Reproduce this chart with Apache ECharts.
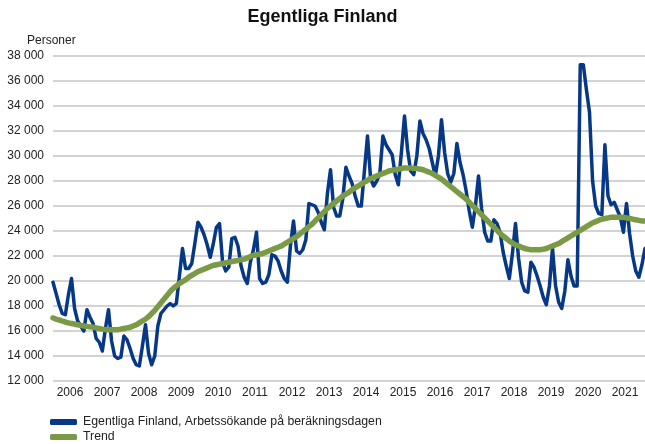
<!DOCTYPE html>
<html>
<head>
<meta charset="utf-8">
<script src="https://cdn.jsdelivr.net/npm/echarts@6/dist/echarts.min.js"></script>
<style>
html,body{margin:0;padding:0;background:#fff;}
#chart{width:645px;height:444px;}
</style>
</head>
<body>
<div id="chart"></div>
<script>
// ---- data ----
const startYear = 2006;
const monthNames = ['01','02','03','04','05','06','07','08','09','10','11','12'];
const yearLabels = ['2006','2007','2008','2009','2010','2011','2012','2013','2014','2015','2016','2017','2018','2019','2020','2021'];
const yTicks = [12000,14000,16000,18000,20000,22000,24000,26000,28000,30000,32000,34000,36000,38000];

// Egentliga Finland, Arbetssökande på beräkningsdagen (monthly, Jan 2006 - Jan 2022)
const jobSeekers = [
  19900,19000,18100,17400,17300,18900,20200,17800,16800,16400,16000,17700,
  17100,16600,15400,15100,14400,16200,17700,15200,14000,13800,13900,15600,
  15300,14600,13800,13300,13200,14800,16500,14200,13300,14000,16400,17400,
  17700,18000,18200,18000,18200,20400,22600,21000,21000,21400,23000,24700,
  24300,23700,22900,21900,23000,24300,24600,21500,20800,21100,23400,23500,
  22800,21200,20300,19800,21500,22500,23900,20200,19800,19900,20500,22100,
  22000,21600,20800,20200,19900,22800,24800,22400,22200,22500,23300,26200,
  26100,26000,25500,24700,24100,27000,28900,25900,25200,25200,26600,29100,
  28400,27800,26800,26000,26000,28800,31600,28200,27600,28000,28600,31600,
  30900,30500,30100,28500,27700,30300,33200,30500,28800,28500,30000,32800,
  31800,31300,30600,29500,28400,30000,32900,30300,28600,27900,28600,31000,
  29500,28500,27200,25600,24300,26000,28400,25800,23900,23200,23200,24900,
  24600,23900,22300,21200,20200,22200,24600,21800,19900,19200,19100,21500,
  21100,20400,19600,18700,18100,19600,22600,19600,18300,17800,19200,21700,
  20400,19600,19600,37300,37300,35300,33500,28000,26000,25400,25300,30900,
  26800,26100,26300,25700,25100,23900,26200,23800,22000,20800,20300,21300,
  22600
];

// Trend (monthly, Jan 2006 - Jan 2022)
const trend = [
  17050,16950,16880,16800,16720,16650,16600,16550,16500,16450,16400,16370,
  16330,16300,16250,16200,16150,16120,16100,16100,16100,16100,16150,16200,
  16250,16300,16400,16500,16650,16800,16950,17150,17400,17650,17950,18250,
  18550,18850,19150,19400,19600,19800,19950,20100,20300,20450,20600,20750,
  20850,20950,21050,21150,21250,21300,21350,21400,21450,21500,21550,21600,
  21650,21700,21750,21850,21950,22050,22100,22150,22200,22300,22400,22500,
  22600,22700,22800,22950,23100,23250,23400,23550,23750,23950,24150,24350,
  24550,24800,25050,25300,25550,25800,26000,26200,26400,26600,26800,26950,
  27100,27300,27450,27600,27750,27900,28050,28200,28300,28400,28500,28600,
  28700,28800,28850,28900,28950,29000,29050,29050,29050,29000,29000,28950,
  28900,28800,28700,28600,28450,28300,28150,27950,27750,27550,27350,27150,
  26950,26750,26550,26300,26050,25800,25550,25300,25050,24800,24550,24300,
  24050,23800,23600,23400,23200,23050,22900,22800,22700,22600,22550,22500,
  22500,22500,22500,22550,22600,22700,22800,22900,23000,23150,23300,23450,
  23600,23750,23900,24050,24200,24350,24500,24650,24750,24850,24950,25000,
  25050,25100,25100,25100,25100,25100,25050,25000,24950,24900,24850,24800,
  24800
];

// categories: one per month
const categories = [];
for (let i = 0; i < jobSeekers.length; i++) {
  categories.push((startYear + Math.floor(i / 12)) + '-' + monthNames[i % 12]);
}

const FONT = "'Liberation Sans', Arial, sans-serif";
const chart = echarts.init(document.getElementById('chart'), null, {renderer: 'canvas'});

function fmtThousands(v) {
  const s = String(Math.round(v));
  return s.replace(/\B(?=(\d{3})+(?!\d))/g, ' ');
}

chart.setOption({
  animation: false,
  backgroundColor: '#ffffff',
  title: {
    text: 'Egentliga Finland',
    left: 'center',
    top: 8,
    padding: 0,
    textStyle: {fontFamily: FONT, fontSize: 18, fontWeight: 'bold', color: '#111'}
  },
  graphic: [{
    type: 'text',
    left: 27,
    top: 35,
    style: {text: 'Personer', font: '12px ' + FONT, fill: '#222'}
  }],
  legend: {
    orient: 'vertical',
    left: 50,
    top: 416,
    height: 60,
    padding: 0,
    itemWidth: 27,
    itemHeight: 6,
    itemGap: 3,
    icon: 'roundRect',
    textStyle: {fontFamily: FONT, fontSize: 12.3, color: '#222', padding: [0, 0, 0, 1]},
    data: ['Egentliga Finland, Arbetssökande på beräkningsdagen', 'Trend']
  },
  grid: {left: 53, right: 0, top: 56, bottom: 63, containLabel: false},
  xAxis: {
    type: 'category',
    data: categories,
    boundaryGap: false,
    axisLine: {show: false},
    axisTick: {show: false},
    splitLine: {show: false},
    axisLabel: {
      interval: function (idx) { return idx % 12 === 6; },
      formatter: function (val, idx) { return yearLabels[Math.floor(idx / 12)] || ''; },
      margin: 6,
      padding: [0, 3, 0, 0],
      fontFamily: FONT, fontSize: 12, color: '#222'
    }
  },
  yAxis: {
    type: 'value',
    min: yTicks[0],
    max: yTicks[yTicks.length - 1],
    interval: 2000,
    axisLine: {show: false},
    axisTick: {show: false},
    splitLine: {lineStyle: {color: '#c4c4c4', width: 1.5}},
    axisLabel: {
      formatter: fmtThousands,
      margin: 9,
      fontFamily: FONT, fontSize: 12, color: '#222'
    }
  },
  series: [
    {
      name: 'Egentliga Finland, Arbetssökande på beräkningsdagen',
      type: 'line',
      data: jobSeekers,
      showSymbol: false,
      symbol: 'none',
      itemStyle: {color: '#063886'},
      lineStyle: {color: '#063886', width: 3.5, cap: 'round', join: 'round'},
      z: 2
    },
    {
      name: 'Trend',
      type: 'line',
      data: trend,
      showSymbol: false,
      symbol: 'none',
      smooth: true,
      itemStyle: {color: '#7b9a46'},
      lineStyle: {color: '#7b9a46', width: 5.5, cap: 'round', join: 'round'},
      z: 3
    }
  ]
});
</script>
</body>
</html>
